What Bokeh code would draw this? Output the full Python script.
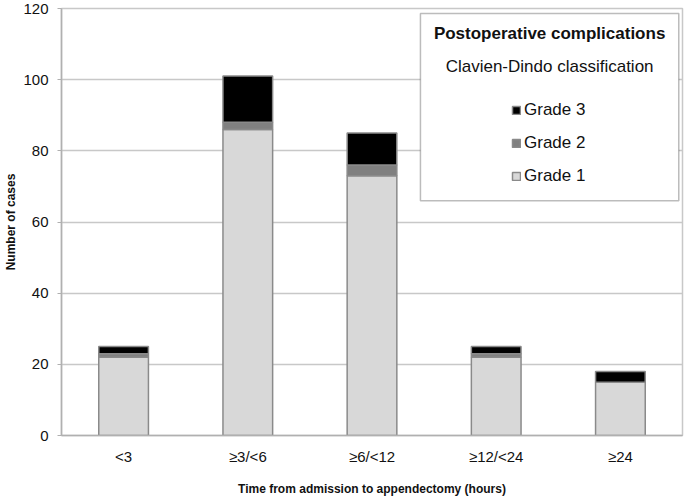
from bokeh.plotting import figure
from bokeh.models import (Legend, LegendItem, BoxAnnotation, Label, FixedTicker,
                          Range1d, FactorRange)
from bokeh.embed import file_html
from bokeh.resources import INLINE

categories = ["<3", "≥3/<6", "≥6/<12", "≥12/<24", "≥24"]
grade1 = [22, 86, 73, 22, 15]
grade2 = [1, 2, 3, 1, 0]
grade3 = [2, 13, 9, 2, 3]
grades = ["Grade 1", "Grade 2", "Grade 3"]
colors = ["#d8d8d8", "#808080", "#000000"]
y_ticks = [0, 20, 40, 60, 80, 100, 120]

AX_FONT = "Liberation Sans"
LG_FONT = "Liberation Sans"

p = figure(x_range=FactorRange(*categories, range_padding=0),
           y_range=Range1d(0, 120),
           frame_width=621, frame_height=427,
           min_border_left=61, min_border_right=2, min_border_top=8, min_border_bottom=66,
           output_backend="svg", toolbar_location=None)

data = dict(cat=categories, g1=grade1, g2=grade2, g3=grade3)
rs = p.vbar_stack(["g1", "g2", "g3"], x="cat", width=0.4, source=data,
                  fill_color=colors, line_color="#8a8a8a", line_width=1.5)

p.xgrid.grid_line_color = None
p.ygrid.grid_line_color = "#c8c8c8"
p.ygrid.grid_line_width = 1.5
p.yaxis.ticker = FixedTicker(ticks=y_ticks)
p.outline_line_color = "#c8c8c8"
p.outline_line_width = 1.5

for ax in (p.xaxis[0], p.yaxis[0]):
    ax.axis_line_color = "#b0b0b0"
    ax.axis_line_width = 1.5
    ax.major_label_text_font = AX_FONT
    ax.major_label_text_font_size = "15px"
    ax.major_label_text_color = "#111111"
    ax.axis_label_text_font = AX_FONT
    ax.axis_label_text_font_size = "12px"
    ax.axis_label_text_font_style = "bold"
    ax.axis_label_text_color = "#111111"
    ax.minor_tick_line_color = None

p.xaxis.major_tick_line_color = None
p.xaxis.major_tick_out = 0
p.xaxis.major_tick_in = 0
p.xaxis.major_label_standoff = 12
p.xaxis.axis_label = "Time from admission to appendectomy (hours)"
p.xaxis.axis_label_standoff = 14
p.yaxis.major_tick_line_color = "#b0b0b0"
p.yaxis.major_tick_in = 0
p.yaxis.major_tick_out = 4
p.yaxis.major_label_standoff = 9
p.yaxis.axis_label = "Number of cases"
p.yaxis.axis_label_standoff = 2

# legend frame
box = BoxAnnotation(left=2.89, right=4.97, top=118.6, bottom=66.0,
                    fill_color="white", fill_alpha=1.0,
                    line_color="#222222", line_width=1.5)
p.add_layout(box)
p.add_layout(Label(x=3.93, y=113.0, text="Postoperative complications",
                   text_align="center", text_baseline="middle",
                   text_font=LG_FONT, text_font_size="17px", text_font_style="bold",
                   text_color="#111111"))
p.add_layout(Label(x=3.93, y=103.7, text="Clavien-Dindo classification",
                   text_align="center", text_baseline="middle",
                   text_font=LG_FONT, text_font_size="17px",
                   text_color="#111111"))

items = [LegendItem(label=grades[2], renderers=[rs[2]]),
         LegendItem(label=grades[1], renderers=[rs[1]]),
         LegendItem(label=grades[0], renderers=[rs[0]])]
legend = Legend(items=items, location=(450, 249),
                glyph_width=10, glyph_height=10, label_height=20, spacing=13,
                label_standoff=3, padding=0, margin=0,
                border_line_color=None, background_fill_alpha=0,
                label_text_font=LG_FONT, label_text_font_size="17px",
                label_text_color="#111111")
p.add_layout(legend)

open("out.html", "w").write(file_html(p, INLINE))
